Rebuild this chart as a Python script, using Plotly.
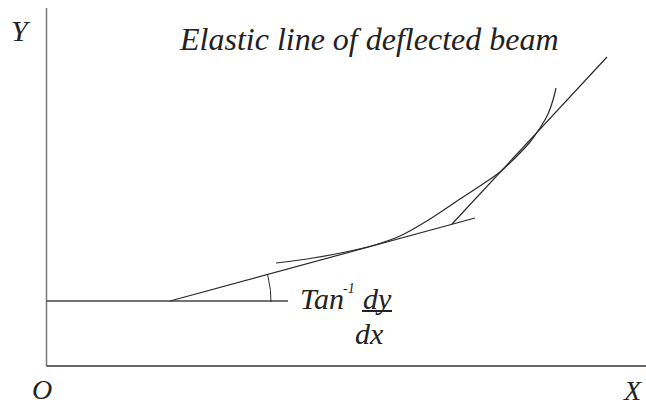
import numpy as np
import plotly.graph_objects as go

# Geometry (x to the right, y up; canvas-like units)
axis_y_x = [46.5, 46.5]
axis_y_y = [39, 397]
axis_x_x = [46.5, 646]
axis_x_y = [39, 39]
base_x = [46.5, 288]
base_y = [104, 104]
tan1_x = [170, 475]
tan1_y = [104, 187]
tan2_x = [452, 607]
tan2_y = [181, 348]
curve_x = [276, 310, 343, 373, 400, 430, 457, 480, 500, 513, 530, 540, 548, 553, 556]
curve_y = [142, 146.5, 152.5, 159.5, 169, 186, 204, 219, 233, 245, 263, 277, 291, 305, 317]
arc_center = (170, 104)
arc_radius = 101
arc_angles_deg = [-0.6, 15.6]

title_text = "Elastic line of deflected beam"
label_y, label_o, label_x = "Y", "O", "X"

t = np.radians(np.linspace(arc_angles_deg[0], arc_angles_deg[1], 40))
arc_x = arc_center[0] + arc_radius * np.cos(t)
arc_y = arc_center[1] + arc_radius * np.sin(t)

fig = go.Figure()
def seg(x, y, color="#2a2a2a", w=1.2, shape="linear"):
    fig.add_trace(go.Scatter(x=x, y=y, mode="lines", line=dict(color=color, width=w, shape=shape),
                             hoverinfo="skip", showlegend=False, cliponaxis=False))

seg(axis_y_x, axis_y_y, color="#777777", w=1.5)
seg(axis_x_x, axis_x_y, color="#333333", w=1.5)
seg(base_x, base_y, color="#444444", w=1.3)
seg(tan1_x, tan1_y)
seg(tan2_x, tan2_y)
seg(curve_x, curve_y, shape="spline")
seg(list(arc_x), list(arc_y), w=1.0)

FONT = "Liberation Serif, Times New Roman, DejaVu Serif, serif"
def ann(text, x, y, size, xanchor="center", yanchor="middle"):
    fig.add_annotation(x=x, y=y, xref="x", yref="y", text=text, showarrow=False,
                       xanchor=xanchor, yanchor=yanchor,
                       font=dict(family=FONT, size=size, color="#222222", style="italic"))

ann(title_text, 369, 366, 32)
ann(label_y, 21, 375, 30)
ann(label_o, 42, 16, 28)
ann(label_x, 632, 15, 28)
ann("Tan", 298, 107, 30, xanchor="left")
ann("-1", 341, 117, 14, xanchor="left")
ann("dy", 377, 107, 30)
ann("dx", 369, 72, 30)
fig.add_trace(go.Scatter(x=[362, 392], y=[94, 94], mode="lines", line=dict(color="#222222", width=2),
                         hoverinfo="skip", showlegend=False))

fig.update_layout(width=646, height=405, margin=dict(l=0, r=0, t=0, b=0),
                  paper_bgcolor="white", plot_bgcolor="white",
                  xaxis=dict(range=[0, 646], visible=False, fixedrange=True),
                  yaxis=dict(range=[0, 405], visible=False, fixedrange=True))
# remove the default 8px page margin so the figure sits at the window's corner
fig.write_html("out.html", config={"displayModeBar": False},
               post_script="document.body.style.margin='0';")
